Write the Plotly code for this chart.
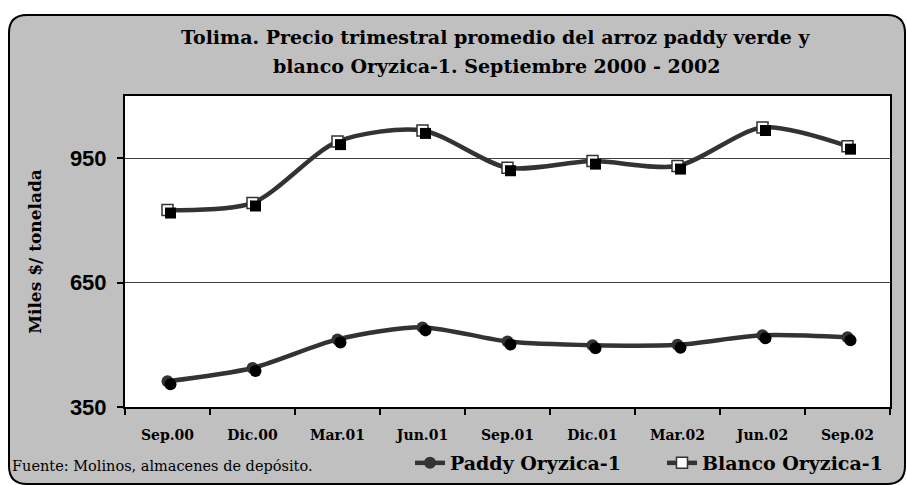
import plotly.graph_objects as go

categories = ["Sep.00", "Dic.00", "Mar.01", "Jun.01", "Sep.01", "Dic.01", "Mar.02", "Jun.02", "Sep.02"]
paddy = [412, 444, 513, 542, 508, 499, 500, 523, 518]
blanco = [825, 842, 990, 1017, 927, 943, 931, 1024, 979]
y_ticks = [350, 650, 950]

W, H = 907, 485
ML, MR, MT, MB = 125, 17, 96, 78
PW, PH = W - ML - MR, H - MT - MB
YR = [350, 1100]
XR = [-0.5, len(categories) - 0.5]

def fx(px):
    return (px - ML) / PW

def fy(py):
    return (H - MB - py) / PH

LINE = "#333333"
SERIF = "DejaVu Serif"

fig = go.Figure()

# shadow markers (on overlay axes shifted by a few pixels)
dx = 3 * (XR[1] - XR[0]) / PW
dy = 3 * (YR[1] - YR[0]) / PH
for vals, sym in [(paddy, "circle"), (blanco, "square")]:
    fig.add_trace(go.Scatter(
        x=categories, y=vals, mode="markers", xaxis="x2", yaxis="y2",
        marker=dict(symbol=sym, size=12 if sym == "circle" else 11, color="black"),
        showlegend=False, hoverinfo="skip"))

fig.add_trace(go.Scatter(
    x=categories, y=paddy, name="Paddy Oryzica-1", mode="lines+markers",
    line=dict(color=LINE, width=4.5, shape="spline", smoothing=0.8),
    marker=dict(symbol="circle", size=12, color=LINE)))
fig.add_trace(go.Scatter(
    x=categories, y=blanco, name="Blanco Oryzica-1", mode="lines+markers",
    line=dict(color=LINE, width=4.5, shape="spline", smoothing=0.8),
    marker=dict(symbol="square", size=11, color="white", line=dict(color=LINE, width=1.5))))

# rounded grey frame
L, T, R, B, r = 9, 15, 905, 484, 18
path = (f"M {fx(L+r)},{fy(T)} L {fx(R-r)},{fy(T)} Q {fx(R)},{fy(T)} {fx(R)},{fy(T+r)} "
        f"L {fx(R)},{fy(B-r)} Q {fx(R)},{fy(B)} {fx(R-r)},{fy(B)} "
        f"L {fx(L+r)},{fy(B)} Q {fx(L)},{fy(B)} {fx(L)},{fy(B-r)} "
        f"L {fx(L)},{fy(T+r)} Q {fx(L)},{fy(T)} {fx(L+r)},{fy(T)} Z")
shapes = [
    dict(type="path", xref="paper", yref="paper", path=path, fillcolor="#C0C0C0",
         line=dict(color="black", width=2), layer="below"),
    dict(type="rect", xref="paper", yref="paper", x0=0, x1=1, y0=0, y1=1,
         fillcolor="white", line=dict(width=0), layer="below"),
]

annotations = [
    dict(text="<b>Tolima. Precio trimestral promedio del arroz paddy verde y</b>",
         xref="paper", yref="paper", x=fx(496), y=fy(37), showarrow=False,
         xanchor="center", yanchor="middle", font=dict(family=SERIF, size=19, color="black")),
    dict(text="<b>blanco Oryzica-1. Septiembre 2000 - 2002</b>",
         xref="paper", yref="paper", x=fx(496), y=fy(66), showarrow=False,
         xanchor="center", yanchor="middle", font=dict(family=SERIF, size=19, color="black")),
    dict(text="Fuente: Molinos, almacenes de depósito.",
         xref="paper", yref="paper", x=fx(10), y=fy(466), showarrow=False,
         xanchor="left", yanchor="middle", font=dict(family=SERIF, size=14.5, color="black")),
]

fig.update_layout(
    width=W, height=H, autosize=False,
    margin=dict(l=ML, r=MR, t=MT, b=MB, autoexpand=False),
    paper_bgcolor="white", plot_bgcolor="white",
    shapes=shapes, annotations=annotations,
    showlegend=True,
    legend=dict(orientation="h", x=fx(410), xanchor="left", y=fy(463), yanchor="middle",
                bgcolor="rgba(0,0,0,0)", font=dict(family=SERIF, size=19, color="black", weight="bold"),
                itemsizing="trace", tracegroupgap=0, entrywidth=207, entrywidthmode="pixels"),
    xaxis=dict(type="category", categoryorder="array", categoryarray=categories, range=XR,
               showline=True, linecolor="black", linewidth=2, mirror=True,
               ticks="outside", ticklen=6, tickcolor="black", tickwidth=2, tickson="boundaries",
               showgrid=False, ticklabelstandoff=14,
               tickfont=dict(family=SERIF, size=14, color="black", weight="bold")),
    yaxis=dict(range=YR, tickvals=y_ticks, showline=True, linecolor="black", linewidth=2, mirror=True,
               ticks="outside", ticklen=6, tickcolor="black", tickwidth=2,
               showgrid=True, gridcolor="#404040", gridwidth=1, zeroline=False,
               ticklabelstandoff=6,
               tickfont=dict(family="Liberation Sans", size=22, color="black", weight="bold"),
               title=dict(text="Miles $/ tonelada", standoff=24,
                          font=dict(family=SERIF, size=17, color="black", weight="bold"))),
    xaxis2=dict(type="category", categoryorder="array", categoryarray=categories,
                range=[XR[0] - dx, XR[1] - dx], overlaying="x", visible=False),
    yaxis2=dict(range=[YR[0] + dy, YR[1] + dy], overlaying="y", visible=False),
)

fig.write_html("out.html", post_script="document.body.style.margin='0';",
               config={"displayModeBar": False})
